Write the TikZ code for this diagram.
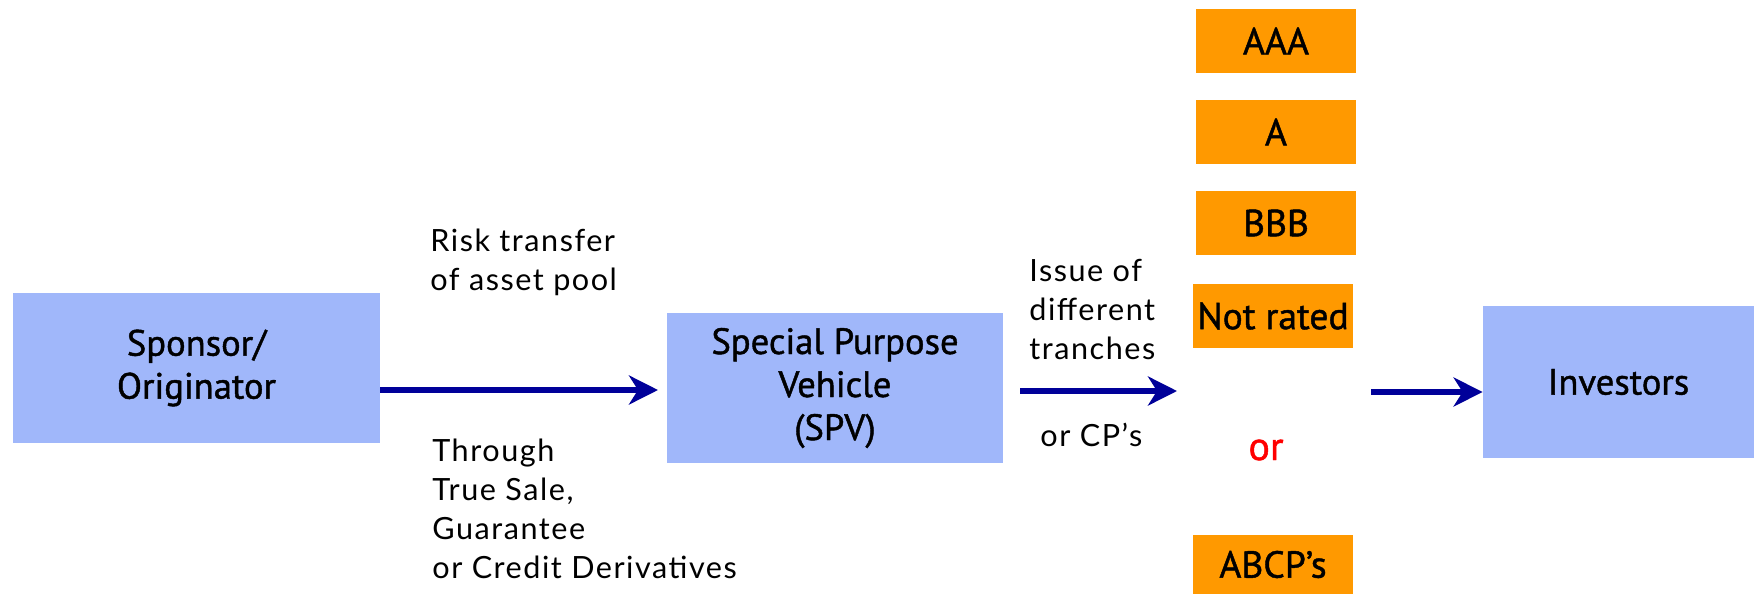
\documentclass[tikz,border=0pt]{standalone}
\usepackage{fontspec}
\setmainfont{Lato}[LetterSpace=5]
\newfontfamily\boxfont{PT Sans}[FakeBold=1.2]
\usetikzlibrary{arrows.meta}
\definecolor{partyblue}{RGB}{160,183,250}
\definecolor{trancheorange}{RGB}{255,153,0}
\definecolor{flowblue}{RGB}{0,0,153}

\begin{document}
\begin{tikzpicture}[x=0.5pt,y=-0.5pt,
  party/.style={fill=partyblue, inner sep=0pt, align=center,
    font=\boxfont\fontsize{18.3}{21.5}\selectfont},
  tranche/.style={fill=trancheorange, inner sep=0pt, minimum width=80pt,
    minimum height=32pt, font=\boxfont\fontsize{18.8}{21}\selectfont},
  note/.style={inner sep=0pt, align=left, anchor=west,
    font=\fontsize{15.3}{19.5}\selectfont},
  flow/.style={draw=flowblue, line width=3pt,
    -{Stealth[length=14.5pt,width=14.5pt,inset=4.5pt]}}
]
\useasboundingbox (0,0) rectangle (1754,594);

% parties
\node[party, minimum width=183.5pt, minimum height=75pt] (sponsor)
  at (196.5,368) {Sponsor/\\Originator};
\node[party, minimum width=168pt, minimum height=75pt] (spv)
  at (835,388) {Special Purpose\\Vehicle\\(SPV)};
\node[party, minimum width=135.5pt, minimum height=76pt] (investors)
  at (1618.5,382) {Investors};

% tranches
\node[tranche] (aaa) at (1276,41) {AAA};
\node[tranche] (a) at (1276,132) {A};
\node[tranche] (bbb) at (1276,223) {BBB};
\node[tranche] (nr) at (1273,316) {Not rated};
\node[tranche, minimum height=29.5pt] (abcp) at (1273,564.5) {ABCP’s};
\node[inner sep=0pt, text=red, font=\boxfont\fontsize{20}{22}\selectfont]
  (or) at (1266,450) {or};

% annotations
\node[note] (risk) at (430,262) {Risk transfer\\of asset pool};
\node[note] (through) at (432,508.5) {Through\\True Sale,\\Guarantee\\or Credit Derivatives};
\node[note] (issue) at (1029,309) {Issue of\\different\\tranches};
\node[note] (cp) at (1040,435) {or CP’s};

% flows
\coordinate (t1) at (658,390);
\coordinate (s2) at (1020,391);
\coordinate (t2) at (1177,391);
\coordinate (s3) at (1371,392);
\draw[flow] (sponsor.east |- t1) -- (t1);
\draw[flow] (s2) -- (t2);
\draw[flow] (s3) -- (investors.west |- s3);
\end{tikzpicture}
\end{document}
